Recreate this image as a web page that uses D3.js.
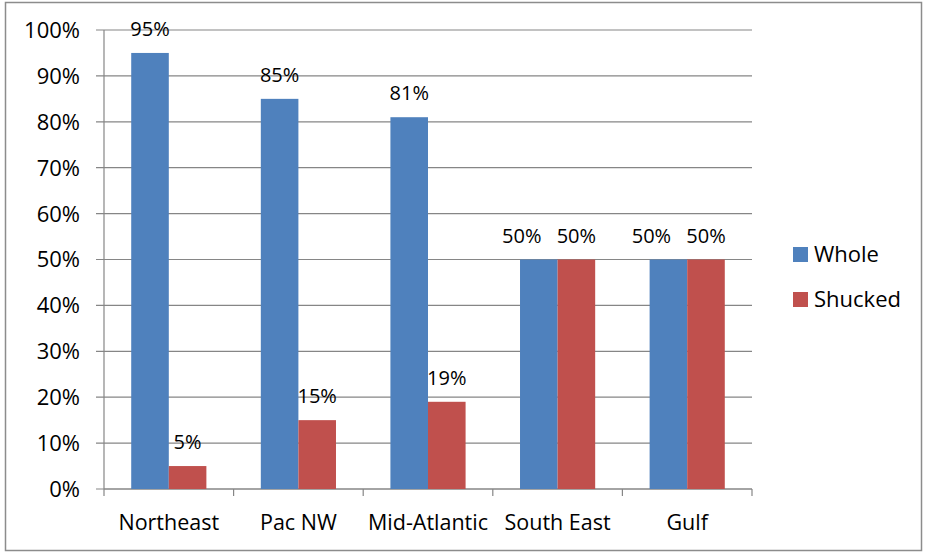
<!DOCTYPE html>
<html>
<head>
<meta charset="utf-8">
<script src="https://cdn.jsdelivr.net/npm/d3@7"></script>
<style>
  body { margin: 0; background: #fff; }
  text { font-family: "Open Sans", sans-serif; fill: #000; }
</style>
</head>
<body>
<div id="chart"></div>
<script>
const regions = ["Northeast", "Pac NW", "Mid-Atlantic", "South East", "Gulf"];
const series = ["Whole", "Shucked"];
const whole = [0.95, 0.85, 0.81, 0.50, 0.50];
const shucked = [0.05, 0.15, 0.19, 0.50, 0.50];
const yTicks = [0, 0.1, 0.2, 0.3, 0.4, 0.5, 0.6, 0.7, 0.8, 0.9, 1.0];
const colors = ["#4f81bd", "#c0504d"];

const W = 925, H = 554;
const margin = {top: 30, right: 173, bottom: 65, left: 104};
const width = W - margin.left - margin.right;
const height = H - margin.top - margin.bottom;

const svg = d3.select("#chart").append("svg")
  .attr("width", W)
  .attr("height", H);

// outer chart border
svg.append("rect")
  .attr("x", 5.5).attr("y", 2.5)
  .attr("width", 916).attr("height", 548)
  .attr("fill", "none")
  .attr("stroke", "#8c8c8c")
  .attr("stroke-width", 1.5);

const g = svg.append("g")
  .attr("transform", "translate(" + margin.left + "," + margin.top + ")");

const x0 = d3.scaleBand().domain(regions).range([0, width]).paddingInner(0.42).paddingOuter(0.21);
const x1 = d3.scaleBand().domain(series).range([0, x0.bandwidth()]);
const y = d3.scaleLinear().domain([0, 1]).range([height, 0]);

// gridlines
g.append("g")
  .selectAll("line")
  .data(yTicks)
  .enter().append("line")
  .attr("x1", -8).attr("x2", width)
  .attr("y1", d => y(d)).attr("y2", d => y(d))
  .attr("stroke", "#868686")
  .attr("stroke-width", 1.2);

// y labels
g.append("g")
  .selectAll("text")
  .data(yTicks)
  .enter().append("text")
  .attr("x", -24)
  .attr("y", d => y(d))
  .attr("dy", "0.36em")
  .attr("text-anchor", "end")
  .style("font-size", "22px")
  .text(d => d3.format(".0%")(d));

// y axis line
g.append("line")
  .attr("x1", 0).attr("x2", 0)
  .attr("y1", 0).attr("y2", height)
  .attr("stroke", "#868686").attr("stroke-width", 1.2);

// x axis with category ticks
const step = width / regions.length;
g.append("line")
  .attr("x1", 0).attr("x2", width)
  .attr("y1", height).attr("y2", height)
  .attr("stroke", "#868686").attr("stroke-width", 1.2);
g.append("g")
  .selectAll("line")
  .data(d3.range(regions.length + 1))
  .enter().append("line")
  .attr("x1", d => d * step).attr("x2", d => d * step)
  .attr("y1", height).attr("y2", height + 7)
  .attr("stroke", "#868686").attr("stroke-width", 1.2);

g.append("g")
  .selectAll("text")
  .data(regions)
  .enter().append("text")
  .attr("x", d => x0(d) + x0.bandwidth() / 2)
  .attr("y", height + 41)
  .attr("text-anchor", "middle")
  .style("font-size", "21.5px")
  .text(d => d);

// bars
const rows = regions.map((r, i) => ({region: r, values: [whole[i], shucked[i]]}));
const groups = g.selectAll(".grp")
  .data(rows)
  .enter().append("g")
  .attr("class", "grp")
  .attr("transform", d => "translate(" + x0(d.region) + ",0)");

groups.selectAll("rect")
  .data(d => d.values.map((v, k) => ({key: series[k], v: v, k: k})))
  .enter().append("rect")
  .attr("x", d => x1(d.key))
  .attr("y", d => y(d.v))
  .attr("width", x1.bandwidth())
  .attr("height", d => height - y(d.v))
  .attr("fill", d => colors[d.k]);

// labels; when both labels sit at the same height, nudge the first one left
groups.selectAll("text")
  .data(d => d.values.map((v, k) => ({key: series[k], v: v, k: k,
    clash: k === 0 && Math.abs(d.values[0] - d.values[1]) < 0.05})))
  .enter().append("text")
  .attr("x", d => x1(d.key) + x1.bandwidth() / 2 - (d.clash ? 17 : 0))
  .attr("y", d => y(d.v) - 17)
  .attr("text-anchor", "middle")
  .style("font-size", "20px")
  .text(d => d3.format(".0%")(d.v));

// legend
const legend = svg.append("g")
  .attr("transform", "translate(793,247)");
series.forEach(function(s, k) {
  legend.append("rect")
    .attr("x", 0).attr("y", k * 45)
    .attr("width", 15).attr("height", 15)
    .attr("fill", colors[k]);
  legend.append("text")
    .attr("x", 21).attr("y", k * 45 + 7.5)
    .attr("dy", "0.36em")
    .style("font-size", "22px")
    .text(s);
});
</script>
</body>
</html>
